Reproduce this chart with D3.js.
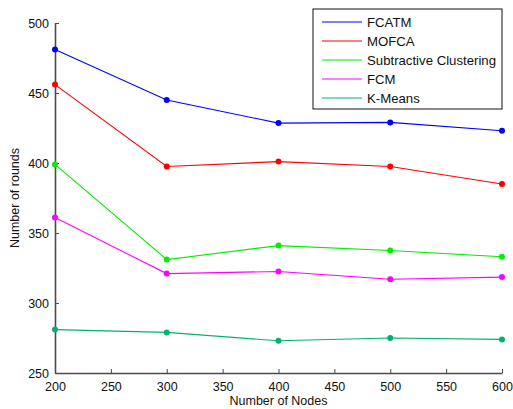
<!DOCTYPE html>
<html>
<head>
<meta charset="utf-8">
<script src="https://cdn.jsdelivr.net/npm/d3@7"></script>
<style>
  body { margin: 0; background: #fff; }
  svg { display: block; font-family: "Liberation Sans", Arial, sans-serif; }
</style>
</head>
<body>
<svg width="513" height="409"></svg>
<script>
// Data
var nodes = [200, 300, 400, 500, 600];
var seriesNames = ["FCATM", "MOFCA", "Subtractive Clustering", "FCM", "K-Means"];
var seriesColors = ["#0000ff", "#ff0000", "#00ee00", "#ff00ff", "#00b36b"];
var fcatm = [481, 445, 428.5, 429, 423];
var mofca = [456, 397.5, 401, 397.5, 385];
var subtractive = [399, 331, 341, 337.5, 333];
var fcm = [361, 321, 322.5, 317, 318.5];
var kmeans = [281, 279, 273, 275, 274];
var xTicks = [200, 250, 300, 350, 400, 450, 500, 550, 600];
var yTicks = [250, 300, 350, 400, 450, 500];

var allSeries = [fcatm, mofca, subtractive, fcm, kmeans];

var svg = d3.select("svg");

// Sizing Stuff
var plotLeft = 55, plotRight = 502, plotTop = 23, plotBottom = 373;

var xscale = d3.scaleLinear().domain([200, 600]).range([plotLeft, plotRight]);
var yscale = d3.scaleLinear().domain([250, 500]).range([plotBottom, plotTop]);

var axisColor = "#4a4a4a";

// x axis, ticks pointing inward
var xaxis = svg.append("g")
	.attr("transform", `translate(0, ${plotBottom})`)
	.call(d3.axisBottom(xscale).tickValues(xTicks).tickSizeInner(-4).tickSizeOuter(0).tickPadding(9));

// y axis
var yaxis = svg.append("g")
	.attr("transform", `translate(${plotLeft}, 0)`)
	.call(d3.axisLeft(yscale).tickValues(yTicks).tickSizeInner(-4).tickSizeOuter(0).tickPadding(6));

[xaxis, yaxis].forEach((ax) => {
	ax.select(".domain").attr("stroke", axisColor).attr("stroke-width", 1.6);
	ax.selectAll(".tick line").attr("stroke", axisColor);
	ax.selectAll(".tick text")
		.attr("fill", "#111")
		.style("font-size", "12.5px")
		.style("font-family", "'Liberation Sans', Arial, sans-serif");
});

// axis titles
svg.append("text")
	.attr("x", (plotLeft + plotRight) / 2)
	.attr("y", 405)
	.attr("text-anchor", "middle")
	.attr("fill", "#111")
	.style("font-size", "12.5px")
	.text("Number of Nodes");

svg.append("text")
	.attr("transform", `translate(19, ${(plotTop + plotBottom) / 2}) rotate(-90)`)
	.attr("text-anchor", "middle")
	.attr("fill", "#111")
	.style("font-size", "12.5px")
	.text("Number of rounds");

// lines + markers
var line = d3.line()
	.x((d, i) => xscale(nodes[i]))
	.y((d) => yscale(d));

var plot = svg.append("g");

allSeries.forEach((values, s) => {
	plot.append("path")
		.attr("d", line(values))
		.attr("fill", "none")
		.attr("stroke", seriesColors[s])
		.attr("stroke-width", 1.1);

	plot.selectAll(null)
		.data(values)
		.enter()
		.append("circle")
		.attr("cx", (d, i) => xscale(nodes[i]))
		.attr("cy", (d) => yscale(d))
		.attr("r", 3)
		.attr("fill", seriesColors[s]);
});

// legend
var legend = svg.append("g").attr("transform", "translate(313, 9)");

legend.append("rect")
	.attr("width", 189)
	.attr("height", 100)
	.attr("fill", "#fff")
	.attr("stroke", "#111")
	.attr("stroke-width", 1);

seriesNames.forEach((name, i) => {
	var rowY = 13 + i * 19;
	legend.append("line")
		.attr("x1", 9)
		.attr("x2", 49)
		.attr("y1", rowY)
		.attr("y2", rowY)
		.attr("stroke", seriesColors[i])
		.attr("stroke-width", 1.1);
	legend.append("text")
		.attr("x", 54)
		.attr("y", rowY + 4.5)
		.attr("fill", "#111")
		.style("font-size", "13.2px")
		.text(name);
});
</script>
</body>
</html>
